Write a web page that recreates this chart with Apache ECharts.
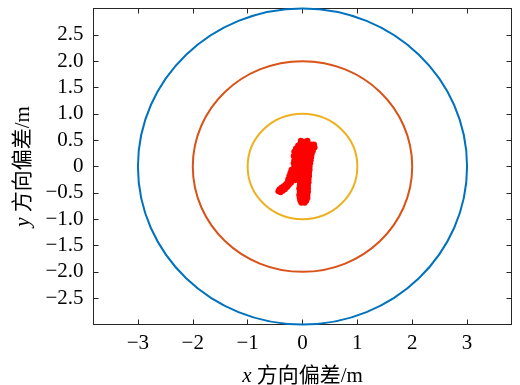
<!DOCTYPE html>
<html>
<head>
<meta charset="utf-8">
<script src="https://cdn.jsdelivr.net/npm/echarts@6/dist/echarts.min.js"></script>
<style>
  html, body { margin: 0; padding: 0; background: #fff; }
  #chart { width: 520px; height: 385px; }
</style>
</head>
<body>
<div id="chart"></div>
<script>
// Position deviation samples (m); devX and devY share the same line layout
const devX = [
  -0.03, 0.09, 0.03,
  0.04, 0.10, 0.16, 0.21,
  0.00, 0.06, 0.12, 0.18, 0.22,
  0.01, 0.07, 0.13, 0.19,
  0.00, 0.06, 0.12, 0.17,
  0.01, 0.07, 0.13, 0.16,
  0.00, 0.06, 0.12, 0.15,
  -0.01, 0.05, 0.11, 0.14,
  -0.02, 0.04, 0.10, 0.13,
  -0.03, 0.03, 0.09, 0.13,
  -0.04, 0.02, 0.08, 0.12,
  -0.04, 0.02, 0.08, 0.12,
  -0.05, 0.01, 0.07, 0.11,
  -0.05, 0.01, 0.07, 0.11,
  -0.05, 0.01, 0.06, 0.10,
  -0.06, 0.00, 0.06, 0.10,
  -0.05, 0.01, 0.06, 0.10,
  -0.06, 0.00, 0.05, 0.09,
  -0.05, 0.01, 0.06, 0.09,
  -0.04, 0.02, 0.07,
  -0.02, 0.04,
  -0.08, -0.04, -0.12, -0.06, -0.15, -0.09, -0.04, -0.16, -0.10, -0.05, -0.15, -0.09,
  -0.16, -0.11, -0.15, -0.11,
  -0.20, -0.14, -0.22, -0.16, -0.11, -0.24, -0.18, -0.12, -0.26, -0.20, -0.14, -0.27, -0.21,
  -0.30, -0.25, -0.34, -0.28, -0.38, -0.32, -0.42, -0.36, -0.44, -0.40
];
const devY = [
  0.49, 0.49, 0.47,
  0.42, 0.42, 0.42, 0.42,
  0.36, 0.36, 0.36, 0.36, 0.36,
  0.30, 0.30, 0.30, 0.30,
  0.24, 0.24, 0.24, 0.24,
  0.18, 0.18, 0.18, 0.18,
  0.12, 0.12, 0.12, 0.12,
  0.06, 0.06, 0.06, 0.06,
  0.00, 0.00, 0.00, 0.00,
  -0.06, -0.06, -0.06, -0.06,
  -0.12, -0.12, -0.12, -0.12,
  -0.18, -0.18, -0.18, -0.18,
  -0.24, -0.24, -0.24, -0.24,
  -0.30, -0.30, -0.30, -0.30,
  -0.36, -0.36, -0.36, -0.36,
  -0.42, -0.42, -0.42, -0.42,
  -0.48, -0.48, -0.48, -0.48,
  -0.54, -0.54, -0.54, -0.54,
  -0.60, -0.60, -0.60, -0.60,
  -0.65, -0.65, -0.65,
  -0.69, -0.69,
  0.40, 0.43, 0.34, 0.32, 0.28, 0.26, 0.24, 0.20, 0.18, 0.16, 0.12, 0.10,
  0.06, 0.04, 0.00, -0.02,
  -0.06, -0.08, -0.12, -0.14, -0.12, -0.18, -0.20, -0.20, -0.24, -0.26, -0.26, -0.30, -0.31,
  -0.33, -0.35, -0.37, -0.39, -0.40, -0.43, -0.43, -0.46, -0.47, -0.49
];

// Reference rings (radius in m) and their colours
const ringRadii = [3, 2, 1];
const ringColors = ['#0072BD', '#D95319', '#EDB120'];

// Axis limits and tick step
const xLimit = 3.81;
const yLimit = 3;
const yStep = 0.5;

const axisColor = '#262626';
const serif = '"Liberation Serif", "Times New Roman", "Noto Sans CJK SC", serif';
const minus = '\u2212';

function fmtX(v) {
  if (Math.abs(v - Math.round(v)) > 1e-6) return '';
  const r = Math.round(v);
  return r < 0 ? minus + Math.abs(r) : String(r);
}
function fmtY(v) {
  if (Math.abs(v) > 2.9) return '';
  if (Math.abs(v) < 1e-9) return '0';
  return (v < 0 ? minus : '') + Math.abs(v).toFixed(1);
}

const points = devX.map((x, i) => [x, devY[i]]);

const chart = echarts.init(document.getElementById('chart'), null, { renderer: 'canvas' });

const baseX = {
  type: 'value', min: -xLimit, max: xLimit, minInterval: 1, maxInterval: 1,
  axisLine: { show: true, onZero: false, lineStyle: { color: axisColor, width: 1 } },
  axisTick: { show: true, inside: true, length: 5, lineStyle: { color: axisColor } },
  splitLine: { show: false }
};
const baseY = {
  type: 'value', min: -yLimit, max: yLimit, interval: yStep,
  axisLine: { show: true, onZero: false, lineStyle: { color: axisColor, width: 1 } },
  axisTick: { show: true, inside: true, length: 5, lineStyle: { color: axisColor } },
  splitLine: { show: false }
};

chart.setOption({
  animation: false,
  backgroundColor: '#fff',
  grid: { left: 93.5, right: 8.5, top: 8.5, bottom: 60.5, containLabel: false, outerBoundsMode: 'none' },
  xAxis: [
    Object.assign({}, baseX, {
      position: 'bottom',
      axisLabel: { formatter: fmtX, color: '#000', fontFamily: serif, fontSize: 21, margin: 8 },
      name: '{i|x} 方向偏差/m',
      nameLocation: 'middle',
      nameGap: 41,
      nameTextStyle: {
        color: '#000', fontFamily: serif, fontSize: 21,
        rich: { i: { fontStyle: 'italic', fontFamily: serif, fontSize: 21, color: '#000' } }
      }
    }),
    Object.assign({}, baseX, { position: 'top', axisLabel: { show: false } })
  ],
  yAxis: [
    Object.assign({}, baseY, {
      position: 'left',
      axisLabel: { formatter: fmtY, color: '#000', fontFamily: serif, fontSize: 21, margin: 10 },
      name: '{i|y} 方向偏差/m',
      nameLocation: 'middle',
      nameRotate: 90,
      nameGap: 60,
      nameTextStyle: {
        color: '#000', fontFamily: serif, fontSize: 21,
        rich: { i: { fontStyle: 'italic', fontFamily: serif, fontSize: 21, color: '#000' } }
      }
    }),
    Object.assign({}, baseY, { position: 'right', axisLabel: { show: false } })
  ],
  series: [
    {
      type: 'custom',
      coordinateSystem: 'cartesian2d',
      data: ringRadii.map((r, i) => [r, i]),
      renderItem: function (params, api) {
        const r = api.value(0);
        const idx = api.value(1);
        const c = api.coord([0, 0]);
        const sx = api.size([r, 0])[0];
        const sy = api.size([0, r])[1];
        return {
          type: 'ellipse',
          shape: { cx: c[0], cy: c[1], rx: sx, ry: sy },
          style: { fill: null, stroke: ringColors[idx], lineWidth: 2 },
          silent: true
        };
      },
      encode: { x: -1, y: -1 },
      clip: false,
      z: 2
    },
    {
      type: 'scatter',
      data: points,
      symbol: 'circle',
      symbolSize: 6,
      itemStyle: { color: '#FF0000', opacity: 1 },
      z: 3
    }
  ]
});
</script>
</body>
</html>
